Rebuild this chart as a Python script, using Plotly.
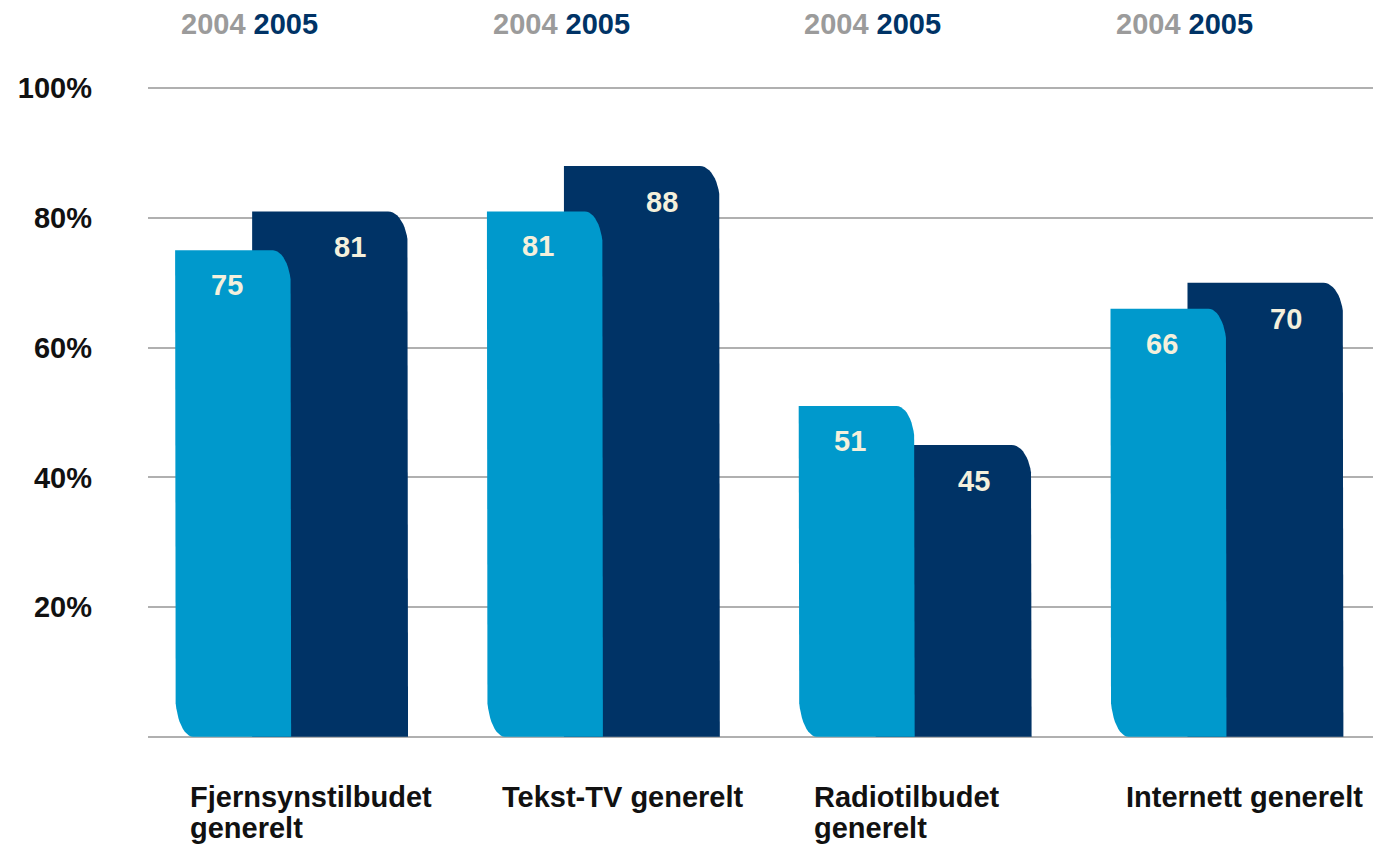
import numpy as np
import plotly.graph_objects as go

# ---- data ----
categories = ["Fjernsynstilbudet<br>generelt", "Tekst-TV generelt", "Radiotilbudet<br>generelt", "Internett generelt"]
years = ["2004", "2005"]
values_2004 = [75, 81, 51, 66]
values_2005 = [81, 88, 45, 70]
y_ticks = [0, 20, 40, 60, 80, 100]
y_tick_labels = ["", "20%", "40%", "60%", "80%", "100%"]

# ---- style ----
C2004 = "#0099CC"
C2005 = "#003366"
LABEL_COL = "#F4F0DC"
FONT = "Liberation Sans"

# geometry in axis units (group i is centred at x=i)
L04, R04 = -0.372, 0.0
L05, R05 = -0.125, 0.375
TR_RX, TR_RY = 0.058, 5.9      # top-right rounded corner
BL_RX, BL_RY = 0.058, 6.8      # bottom-left rounded corner (2004)
TR5_RX, TR5_RY = 0.064, 5.6


def arc(cx, cy, rx, ry, a0, a1, n=14):
    t = np.linspace(np.radians(a0), np.radians(a1), n)
    return list(cx + rx * np.cos(t)), list(cy + ry * np.sin(t))


def bar_path(x0, x1, top, tr_rx, tr_ry, bl=None):
    xs, ys = [], []
    xs.append(x0); ys.append(top)
    if bl:
        rx, ry = bl
        xs.append(x0); ys.append(ry)
        ax, ay = arc(x0 + rx, ry, rx, ry, 180, 270)
        xs += ax; ys += ay
    else:
        xs.append(x0); ys.append(0)
    xs.append(x1); ys.append(0)
    xs.append(x1); ys.append(top - tr_ry)
    ax, ay = arc(x1 - tr_rx, top - tr_ry, tr_rx, tr_ry, 0, 90)
    xs += ax; ys += ay
    xs.append(x0); ys.append(top)
    return xs, ys


fig = go.Figure()

# 2005 bars (behind)
for i, v in enumerate(values_2005):
    xs, ys = bar_path(i + L05, i + R05, v, TR5_RX, TR5_RY)
    fig.add_trace(go.Scatter(x=xs, y=ys, fill="toself", fillcolor=C2005, mode="lines",
                             line=dict(width=0, color=C2005), hoverinfo="skip", showlegend=False))
# 2004 bars (front)
for i, v in enumerate(values_2004):
    xs, ys = bar_path(i + L04, i + R04, v, TR_RX, TR_RY, bl=(BL_RX, BL_RY))
    fig.add_trace(go.Scatter(x=xs, y=ys, fill="toself", fillcolor=C2004, mode="lines",
                             line=dict(width=0, color=C2004), hoverinfo="skip", showlegend=False))

ann = []
for i, (a, b) in enumerate(zip(values_2004, values_2005)):
    ann.append(dict(x=i - 0.207, y=a, xref="x", yref="y", yshift=-35, text=f"<b>{a}</b>",
                    showarrow=False, font=dict(family=FONT, size=29, color=LABEL_COL)))
    ann.append(dict(x=i + 0.19, y=b, xref="x", yref="y", yshift=-36, text=f"<b>{b}</b>",
                    showarrow=False, font=dict(family=FONT, size=29, color=LABEL_COL)))
    # year header
    ann.append(dict(x=i - 0.36, y=1.0, xref="x", yref="paper", yshift=61, xanchor="left",
                    yanchor="middle", showarrow=False,
                    text=f"<b><span style='color:#9B9B9B'>{years[0]}</span> "
                         f"<span style='color:{C2005}'>{years[1]}</span></b>",
                    font=dict(family=FONT, size=29)))
    # category label lines
    for k, line in enumerate(categories[i].split("<br>")):
        ann.append(dict(x=i - 0.33, y=0, xref="x", yref="paper", xanchor="left", yanchor="middle",
                        yshift=-57 - 31 * k, text=f"<b>{line}</b>", showarrow=False,
                        font=dict(family=FONT, size=29, color="#111111")))

fig.update_layout(
    width=1373, height=848,
    margin=dict(l=148, r=0, t=85, b=108),
    paper_bgcolor="white", plot_bgcolor="white",
    annotations=ann,
    xaxis=dict(range=[-0.459, 3.47], showgrid=False, zeroline=False, showticklabels=False,
               showline=False, fixedrange=True),
    yaxis=dict(range=[-0.5, 100.5], tickvals=y_ticks, ticktext=y_tick_labels, showgrid=True,
               gridcolor="#B0B0B0", gridwidth=2, zeroline=False, showline=False,
               ticks="", ticklabelstandoff=55,
               tickfont=dict(family=FONT, size=29, color="#111111", weight="bold")),
)

fig.write_html("out.html", config={"displayModeBar": False},
               post_script="document.body.style.margin='0px';")
